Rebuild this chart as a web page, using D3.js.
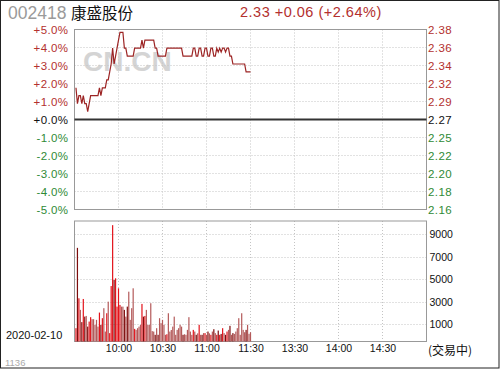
<!DOCTYPE html>
<html>
<head>
<meta charset="utf-8">
<script src="https://cdn.jsdelivr.net/npm/d3@7"></script>
<style>
  body { margin: 0; background: #fff; }
  svg { display: block; }
</style>
</head>
<body>
<script>
const PREV_CLOSE = 2.27;

// minutes after 9:30 (trading time, lunch break skipped)
const MINUTE_TICKS = [30, 60, 90, 120, 150, 180, 210];
const TIME_LABELS = ['10:00', '10:30', '11:00', '11:30', '13:30', '14:00', '14:30'];

const PCT_TICKS = [5, 4, 3, 2, 1, 0, -1, -2, -3, -4, -5];
const PCT_LABELS = ['+5.0%', '+4.0%', '+3.0%', '+2.0%', '+1.0%', '+0.0%',
  '-1.0%', '-2.0%', '-3.0%', '-4.0%', '-5.0%'];
const PRICE_LABELS = ['2.38', '2.36', '2.34', '2.32', '2.29', '2.27',
  '2.25', '2.22', '2.20', '2.18', '2.16'];

const VOL_TICKS = [1000, 3000, 5000, 7000, 9000];

// one value per minute, 9:31 .. 11:30
const PRICE = [
  2.31, 2.29, 2.30, 2.30, 2.29, 2.30, 2.29, 2.29, 2.28, 2.29,
  2.30, 2.30, 2.30, 2.30, 2.30, 2.30, 2.31, 2.30, 2.31, 2.31,
  2.31, 2.32, 2.32, 2.33, 2.34, 2.36, 2.34, 2.35, 2.36, 2.37,
  2.38, 2.38, 2.38, 2.36, 2.36, 2.35, 2.35, 2.35, 2.35, 2.35,
  2.36, 2.36, 2.36, 2.36, 2.36, 2.37, 2.36, 2.37, 2.37, 2.37,
  2.37, 2.37, 2.37, 2.37, 2.36, 2.36, 2.35, 2.35, 2.35, 2.35,
  2.35, 2.35, 2.36, 2.36, 2.36, 2.36, 2.36, 2.36, 2.36, 2.36,
  2.36, 2.36, 2.36, 2.35, 2.35, 2.35, 2.35, 2.35, 2.35, 2.35,
  2.36, 2.36, 2.35, 2.35, 2.36, 2.36, 2.35, 2.35, 2.36, 2.36,
  2.35, 2.35, 2.36, 2.36, 2.35, 2.35, 2.36, 2.355, 2.36, 2.355,
  2.36, 2.36, 2.355, 2.36, 2.36, 2.35, 2.35, 2.34, 2.34, 2.34,
  2.34, 2.34, 2.34, 2.34, 2.34, 2.34, 2.33, 2.33, 2.33, 2.33
];

const VOLUME = [
  660, 7810, 3320, 2290, 1200, 3260, 1690, 1750, 800, 1250,
  1640, 1460, 1460, 960, 1400, 800, 2050, 960, 1550, 2440,
  360, 1990, 3020, 220, 4410, 9830, 4950, 5100, 2580, 4210,
  2730, 2580, 2580, 2290, 1690, 2580, 3910, 1400, 2440, 4210,
  600, 510, 660, 800, 960, 2820, 1690, 1750, 2290, 960,
  960, 2880, 400, 360, 70, 660, 70, 1550, 1110, 1400,
  960, 70, 120, 1990, 360, 500, 800, 1690, 70, 510,
  660, 960, 800, 70, 120, 70, 510, 1640, 360, 70,
  510, 360, 70, 200, 960, 70, 70, 220, 220, 70,
  360, 200, 70, 360, 570, 220, 70, 450, 70, 150,
  660, 220, 70, 360, 510, 870, 70, 220, 150, 360,
  660, 1550, 70, 1990, 510, 300, 510, 960, 160, 300
];

const RED = '#b3302e';
const GREEN = '#2f8a36';
const LINE_COLOR = '#9c2424';
const GRID = '#c4c4c4';
const FONT = '"Liberation Sans", Arial, sans-serif';

const W = 500, H = 370;
const pctOf = p => (p - PREV_CLOSE) / PREV_CLOSE * 100;

const svg = d3.select('body').append('svg')
  .attr('width', W).attr('height', H);

svg.append('rect').attr('width', W).attr('height', H).attr('fill', '#fff');

const x = d3.scaleLinear().domain([0, 240]).range([74.5, 426.5]);
const yPct = d3.scaleLinear().domain([-5, 5]).range([209.5, 29.5]);
const yVol = d3.scaleLinear().domain([-525, 10200]).range([341.5, 221]);
const volBottom = yVol.range()[0];

// header
svg.append('text')
  .attr('x', 8).attr('y', 19)
  .attr('font-family', FONT).attr('font-size', 17.5)
  .attr('fill', '#9a9a9a')
  .text('002418');

svg.append('text')
  .attr('x', 71).attr('y', 19)
  .attr('font-family', '"Noto Sans CJK SC", sans-serif').attr('font-size', 15.5)
  .attr('fill', '#111')
  .text('康盛股份');

svg.append('text')
  .attr('x', 240).attr('y', 17)
  .attr('font-family', FONT).attr('font-size', 14.5)
  .style('letter-spacing', '0.5px')
  .attr('fill', RED)
  .text('2.33 +0.06 (+2.64%)');

// watermark
svg.append('text')
  .attr('x', 83).attr('y', 71)
  .attr('font-family', FONT).attr('font-size', 28).attr('font-weight', 'bold')
  .attr('fill', '#d4d4d4')
  .text('CN.CN');

// grids
const price = svg.append('g');
price.selectAll('line.h')
  .data(PCT_TICKS.filter(d => d !== 0 && Math.abs(d) !== 5))
  .join('line')
  .attr('x1', x(0)).attr('x2', x(240))
  .attr('y1', d => yPct(d)).attr('y2', d => yPct(d))
  .attr('stroke', GRID).attr('stroke-dasharray', '1,2');

price.selectAll('line.v')
  .data(MINUTE_TICKS)
  .join('line')
  .attr('x1', d => x(d)).attr('x2', d => x(d))
  .attr('y1', yPct(5)).attr('y2', yPct(-5))
  .attr('stroke', GRID).attr('stroke-dasharray', '1,2');

price.append('rect')
  .attr('x', x(0)).attr('y', yPct(5))
  .attr('width', x(240) - x(0)).attr('height', yPct(-5) - yPct(5))
  .attr('fill', 'none').attr('stroke', '#999');

price.append('line')
  .attr('x1', x(0)).attr('x2', x(240))
  .attr('y1', yPct(0)).attr('y2', yPct(0))
  .attr('stroke', '#333').attr('stroke-width', 2);

const line = d3.line()
  .x((d, i) => x(i + 1))
  .y(d => yPct(pctOf(d)));

price.append('path')
  .datum(PRICE)
  .attr('fill', 'none')
  .attr('stroke', LINE_COLOR)
  .attr('stroke-width', 1.2)
  .attr('d', line);

// volume panel
const vol = svg.append('g');
vol.selectAll('line.h')
  .data(VOL_TICKS)
  .join('line')
  .attr('x1', x(0)).attr('x2', x(240))
  .attr('y1', d => Math.round(yVol(d)) + 0.5).attr('y2', d => Math.round(yVol(d)) + 0.5)
  .attr('stroke', GRID).attr('stroke-dasharray', '1,2');

vol.selectAll('line.v')
  .data(MINUTE_TICKS)
  .join('line')
  .attr('x1', d => x(d)).attr('x2', d => x(d))
  .attr('y1', yVol.range()[1]).attr('y2', volBottom)
  .attr('stroke', GRID).attr('stroke-dasharray', '1,2');

vol.append('rect')
  .attr('x', x(0)).attr('y', yVol.range()[1])
  .attr('width', x(240) - x(0)).attr('height', volBottom - yVol.range()[1])
  .attr('fill', 'none').attr('stroke', '#999');

const barColor = i => {
  const prev = i === 0 ? PREV_CLOSE : PRICE[i - 1];
  if (PRICE[i] > prev) return '#e3131b';
  if (PRICE[i] < prev) return '#7e0c0c';
  return '#b45a5a';
};

vol.selectAll('rect.bar')
  .data(VOLUME)
  .join('rect')
  .attr('class', 'bar')
  .attr('x', (d, i) => x(i + 1) - 0.6)
  .attr('width', 1.2)
  .attr('y', d => yVol(d))
  .attr('height', d => volBottom - yVol(d))
  .attr('fill', (d, i) => barColor(i));

// axes
const leftAxis = svg.append('g')
  .attr('transform', `translate(${x(0)},0)`)
  .call(d3.axisLeft(yPct).tickValues(PCT_TICKS)
    .tickFormat((d, i) => PCT_LABELS[i]).tickSize(0).tickPadding(6));
leftAxis.select('.domain').remove();
leftAxis.attr('font-family', FONT).attr('font-size', 11.5);
leftAxis.selectAll('text')
  .style('letter-spacing', '0.4px')
  .attr('fill', d => d > 0 ? RED : d < 0 ? GREEN : '#111');

const rightAxis = svg.append('g')
  .attr('transform', `translate(${x(240)},0)`)
  .call(d3.axisRight(yPct).tickValues(PCT_TICKS)
    .tickFormat((d, i) => PRICE_LABELS[i]).tickSize(0).tickPadding(1.5));
rightAxis.select('.domain').remove();
rightAxis.attr('font-family', FONT).attr('font-size', 11.5);
rightAxis.selectAll('text')
  .style('letter-spacing', '0.4px')
  .attr('fill', d => d > 0 ? RED : d < 0 ? GREEN : '#111');

const volAxis = svg.append('g')
  .attr('transform', `translate(${x(240)},0)`)
  .call(d3.axisRight(yVol).tickValues(VOL_TICKS)
    .tickFormat(d3.format('d')).tickSize(0).tickPadding(3));
volAxis.select('.domain').remove();
volAxis.attr('font-family', FONT).attr('font-size', 10.5);
volAxis.selectAll('text').attr('fill', '#111');

const timeAxis = svg.append('g')
  .attr('transform', `translate(0,${volBottom})`)
  .call(d3.axisBottom(x).tickValues(MINUTE_TICKS)
    .tickFormat((d, i) => TIME_LABELS[i]).tickSize(0).tickPadding(3));
timeAxis.select('.domain').remove();
timeAxis.attr('font-family', FONT).attr('font-size', 10.5);
timeAxis.selectAll('text').attr('fill', '#111');

svg.append('text')
  .attr('x', 428).attr('y', 355)
  .attr('font-family', '"Noto Sans CJK SC", sans-serif').attr('font-size', 12)
  .attr('fill', '#111')
  .text('(交易中)');

svg.append('text')
  .attr('x', 6).attr('y', 339)
  .attr('font-family', FONT).attr('font-size', 11)
  .attr('fill', '#111')
  .text('2020-02-10');

svg.append('text')
  .attr('x', 5).attr('y', 366)
  .attr('font-family', FONT).attr('font-size', 9.5)
  .attr('fill', '#aaa')
  .text('1136');

// outer frame
svg.append('rect')
  .attr('x', 0.5).attr('y', 0.5)
  .attr('width', W - 1.5).attr('height', 367.5)
  .attr('fill', 'none').attr('stroke', '#222');
</script>
</body>
</html>
